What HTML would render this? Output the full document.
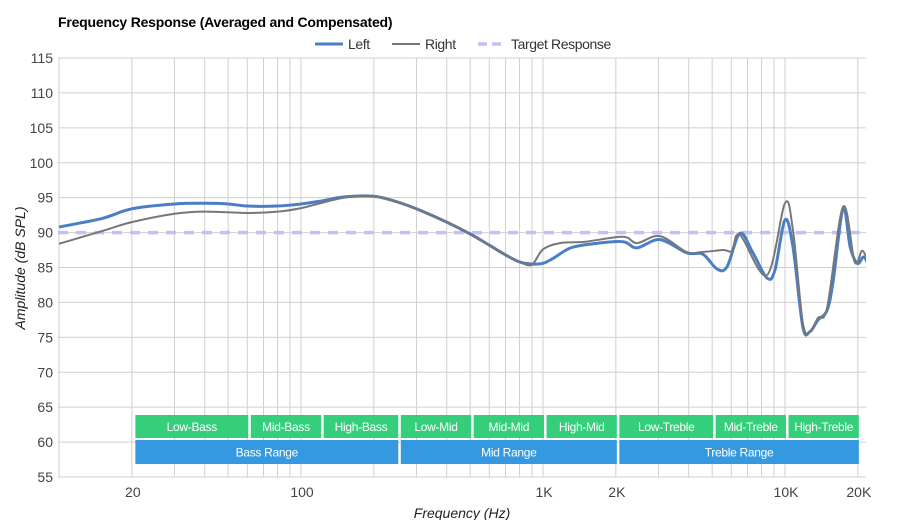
<!DOCTYPE html>
<html><head><meta charset="utf-8"><style>
body{margin:0;background:#fff;}
svg{display:block;font-family:"Liberation Sans",Arial,sans-serif;}
</style></head><body>
<svg id="chart" width="900" height="520">
<text x="58" y="27" font-size="14" font-weight="bold" fill="#000" letter-spacing="-0.2">Frequency Response (Averaged and Compensated)</text>
<g id="grid"></g>
<g id="bands"></g>
<g id="series"></g>
<g id="axes"></g>
<g>
<g><line x1="315" y1="44" x2="343" y2="44" stroke="#4a7fc6" stroke-width="3"/><text x="348" y="49" font-size="14" fill="#333" letter-spacing="-0.4">Left</text></g>
<g><line x1="392" y1="44" x2="420" y2="44" stroke="#777" stroke-width="2"/><text x="425" y="49" font-size="14" fill="#333" letter-spacing="-0.4">Right</text></g>
<g><line x1="478" y1="44" x2="506" y2="44" stroke="#c0c0fa" stroke-width="3.5" stroke-dasharray="9,5"/><text x="511" y="49" font-size="14" fill="#333" letter-spacing="-0.4">Target Response</text></g>
</g>
<text transform="translate(25,268) rotate(-90)" text-anchor="middle" font-size="14" font-style="italic" fill="#222">Amplitude (dB SPL)</text>
<text x="462" y="518" text-anchor="middle" font-size="14" font-style="italic" fill="#222">Frequency (Hz)</text>
</svg>
<script>
const yTicks=[55,60,65,70,75,80,85,90,95,100,105,110,115];
const xTickFreqs=[20,100,1000,2000,10000,20000];
const xTickLabels=["20","100","1K","2K","10K","20K"];
const gridFreqs=[10,20,30,40,50,60,70,80,90,100,200,300,400,500,600,700,800,900,1000,2000,3000,4000,5000,6000,7000,8000,9000,10000,20000];
const target=90;
const leftFreq=[10,15,20,30,40,50,60,80,100,120,150,200,250,300,400,500,600,700,800,900,1000,1100,1300,1610,2140,2445,3040,3930,4580,5230,5760,6510,7370,8420,9080,9990,10780,11850,12670,13690,14940,15830,17380,18580,19870,21060,21870];
const leftDb=[90.8,92.0,93.4,94.1,94.2,94.1,93.8,93.8,94.1,94.5,95.1,95.2,94.4,93.4,91.5,89.8,88.2,86.8,85.8,85.5,85.6,86.3,87.8,88.4,88.7,87.8,89.0,87.1,86.9,84.8,85.1,89.9,87.1,83.5,84.6,91.8,88.0,76.5,75.8,77.5,78.9,83.2,93.5,88.0,85.6,86.5,85.8];
const rightFreq=[10,15,20,30,40,60,80,100,150,200,250,300,400,500,600,700,800,900,1000,1176,1500,2140,2445,3040,3930,4500,5540,6040,6510,8420,9990,10780,11850,12670,13690,14940,17380,19400,20800,21870];
const rightDb=[88.4,90.2,91.5,92.7,93.0,92.8,93.0,93.5,95.0,95.2,94.4,93.4,91.5,89.8,88.2,86.8,85.8,85.4,87.6,88.5,88.7,89.4,88.5,89.5,87.2,87.2,87.5,87.4,89.7,83.9,94.2,90.4,77.1,75.8,77.8,79.3,93.7,85.8,87.4,86.1];
const bandNames=["Low-Bass","Mid-Bass","High-Bass","Low-Mid","Mid-Mid","High-Mid","Low-Treble","Mid-Treble","High-Treble"];
const bandEdges=[20,60,120,250,500,1000,2000,5000,10000,20000];
const rangeNames=["Bass Range","Mid Range","Treble Range"];
const rangeEdges=[20,250,2000,20000];

const NS="http://www.w3.org/2000/svg";
const X0=58,X1=866,Y0=58,Y1=477;
function xs(f){return 543+242*Math.log10(f/1000);}
function ys(v){return Y0+(115-v)*(Y1-Y0)/60;}
function mk(tag,attrs,parent){const e=document.createElementNS(NS,tag);for(const k in attrs)e.setAttribute(k,attrs[k]);parent.appendChild(e);return e;}
const grid=document.getElementById('grid'),axes=document.getElementById('axes'),bands=document.getElementById('bands'),series=document.getElementById('series');
yTicks.forEach(v=>{
 const l=mk('line',{x1:X0,x2:X1,y1:ys(v),y2:ys(v),stroke:'#d0d0d0','stroke-width':1},grid);
 
 
 const t=mk('text',{x:53,y:ys(v)+5,'text-anchor':'end','font-size':14,fill:'#444'},axes);
 t.textContent=v;
 
 
});
gridFreqs.forEach(f=>{
 const l=mk('line',{x1:xs(f),x2:xs(f),y1:Y0,y2:Y1,stroke:'#d0d0d0','stroke-width':1},grid);
 
 
});
xTickFreqs.forEach((f,i)=>{
 const t=mk('text',{x:xs(f)+1,y:497,'text-anchor':'middle','font-size':14,fill:'#444'},axes);
 t.textContent=xTickLabels[i];
 
 
});
function band(a,b,y,h,col,name){
 const x=xs(a)+3.5,w=xs(b)-xs(a)-2.5;
 const r=mk('rect',{x:x,y:y,width:w,height:h,fill:col},bands);
 
 
 const t=mk('text',{x:x+w/2,y:y+h/2+4.5,'text-anchor':'middle','font-size':12,fill:'#fff','letter-spacing':'-0.3'},bands);
 t.textContent=name;
 
 
}
bandNames.forEach((n,i)=>band(bandEdges[i],bandEdges[i+1],415,23,'#35cf7c',n));
rangeNames.forEach((n,i)=>band(rangeEdges[i],rangeEdges[i+1],440,24,'#3499e0',n));
const tl=mk('line',{x1:X0,x2:X1,y1:ys(target),y2:ys(target),stroke:'#c0c0fa','stroke-width':3.5,'stroke-dasharray':'10,8'},series);


function pathFrom(fr,db){
 const p=fr.map((f,i)=>[xs(f),ys(db[i])]);
 let d='M'+p[0][0].toFixed(1)+','+p[0][1].toFixed(1);
 for(let i=0;i<p.length-1;i++){
  const p0=p[Math.max(0,i-1)],p1=p[i],p2=p[i+1],p3=p[Math.min(p.length-1,i+2)];
  const c1=[p1[0]+(p2[0]-p0[0])/6,p1[1]+(p2[1]-p0[1])/6];
  const c2=[p2[0]-(p3[0]-p1[0])/6,p2[1]-(p3[1]-p1[1])/6];
  d+=' C'+c1.map(v=>v.toFixed(1))+' '+c2.map(v=>v.toFixed(1))+' '+p2.map(v=>v.toFixed(1));
 }
 return d;
}
mk('clipPath',{id:'pc'},series).appendChild(document.createElementNS(NS,'rect'));
const cr=series.querySelector('clipPath rect');cr.setAttribute('x',X0);cr.setAttribute('y',Y0);cr.setAttribute('width',X1-X0);cr.setAttribute('height',Y1-Y0);
const lp=mk('path',{d:pathFrom(leftFreq,leftDb),fill:'none',stroke:'#4a7fc6','stroke-width':3,'clip-path':'url(#pc)'},series);


const rp=mk('path',{d:pathFrom(rightFreq,rightDb),fill:'none',stroke:'#777','stroke-width':2,'clip-path':'url(#pc)'},series);


</script>
</body></html>
